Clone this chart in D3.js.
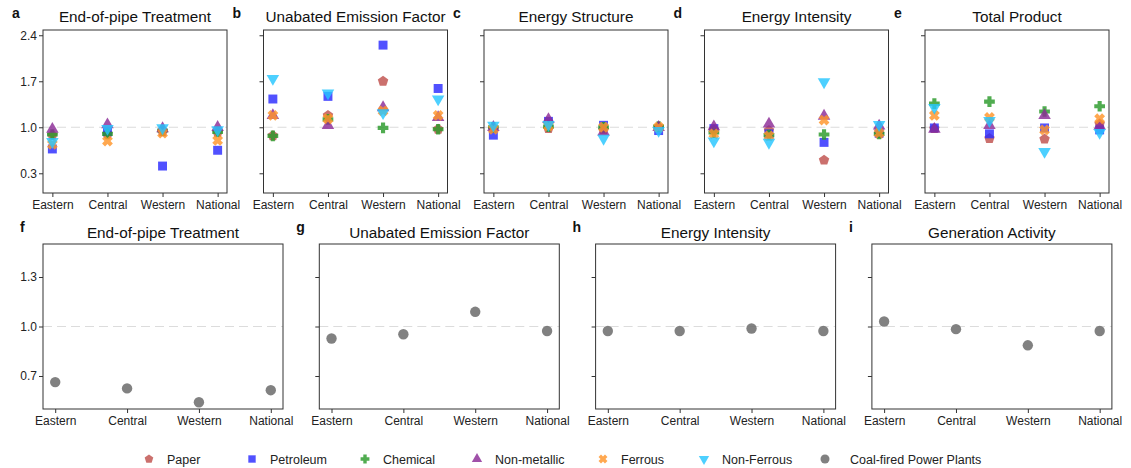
<!DOCTYPE html>
<html><head><meta charset="utf-8">
<script src="https://cdn.jsdelivr.net/npm/d3@7/dist/d3.min.js"></script>
<style>
html,body{margin:0;padding:0;background:#fff;}
svg{display:block;font-family:"Liberation Sans",Arial,sans-serif;}
</style></head>
<body><svg id="chart" width="1131" height="468"></svg>
<script>
// ---------- data ----------
const regions = ["Eastern", "Central", "Western", "National"];
const industries = ["Paper", "Petroleum", "Chemical", "Non-metallic", "Ferrous", "Non-Ferrous"];
const plantLabel = "Coal-fired Power Plants";

const topTitles = ["End-of-pipe Treatment", "Unabated Emission Factor", "Energy Structure", "Energy Intensity", "Total Product"];
const topLetters = ["a", "b", "c", "d", "e"];
const topTicks = [0.3, 1.0, 1.7, 2.4];

const bottomTitles = ["End-of-pipe Treatment", "Unabated Emission Factor", "Energy Intensity", "Generation Activity"];
const bottomLetters = ["f", "g", "h", "i"];
const bottomTicks = [0.7, 1.0, 1.3];

// rows follow `industries`, columns follow `regions`
const endOfPipeInd = [
  [0.88, 0.90, 0.93, 0.92],
  [0.67, 0.93, 0.41, 0.65],
  [0.89, 0.90, 0.95, 0.93],
  [0.97, 1.04, 0.98, 1.00],
  [0.74, 0.79, 0.91, 0.80],
  [0.78, 0.98, 0.99, 0.96]
];
const emissionFactorInd = [
  [0.87, 1.18, 1.70, 0.97],
  [1.43, 1.47, 2.25, 1.59],
  [0.87, 1.12, 0.99, 0.97],
  [1.18, 1.03, 1.30, 1.15],
  [1.18, 1.13, 1.25, 1.18],
  [1.74, 1.52, 1.22, 1.43]
];
const energyStructureInd = [
  [0.98, 0.98, 0.96, 1.00],
  [0.88, 1.09, 1.03, 0.95],
  [1.00, 1.01, 1.00, 1.01],
  [1.00, 1.12, 0.93, 1.00],
  [0.97, 1.02, 1.00, 1.00],
  [1.03, 1.04, 0.83, 0.95]
];
const energyIntensityInd = [
  [0.96, 0.95, 0.50, 0.90],
  [0.98, 0.90, 0.77, 0.91],
  [0.92, 0.88, 0.89, 0.90],
  [1.01, 1.05, 1.17, 1.02],
  [0.90, 0.87, 1.11, 0.91],
  [0.79, 0.77, 1.69, 1.04]
];
const totalProductInd = [
  [0.98, 0.83, 0.82, 1.05],
  [0.99, 0.90, 0.99, 0.96],
  [1.36, 1.39, 1.24, 1.32],
  [0.97, 1.03, 1.18, 1.02],
  [1.18, 1.15, 0.96, 1.13],
  [1.30, 1.10, 0.63, 0.92]
];

const endOfPipePower = [0.663, 0.625, 0.541, 0.614];
const emissionFactorPower = [0.927, 0.953, 1.089, 0.973];
const energyIntensityPower = [0.973, 0.973, 0.988, 0.973];
const generationPower = [1.030, 0.984, 0.886, 0.973];

// ---------- styles ----------
const colors = ["#c0504d", "#2b2bff", "#2a9a2a", "#8b2b96", "#ff952a", "#26c6ff"];
const plantColor = "#6f6f6f";

const pentagon = { draw(ctx, size) {
  const r = Math.sqrt(size / 2.378);
  for (let i = 0; i < 5; i++) {
    const a = -Math.PI / 2 + i * 2 * Math.PI / 5;
    const x = r * Math.cos(a), y = r * Math.sin(a);
    i ? ctx.lineTo(x, y) : ctx.moveTo(x, y);
  }
  ctx.closePath();
}};
const plusSym = { draw(ctx, size) {
  const s = Math.sqrt(size) / 2; const w = s / 2.6;
  const p = [[-w,-s],[w,-s],[w,-w],[s,-w],[s,w],[w,w],[w,s],[-w,s],[-w,w],[-s,w],[-s,-w],[-w,-w]];
  p.forEach((q, i) => i ? ctx.lineTo(q[0], q[1]) : ctx.moveTo(q[0], q[1]));
  ctx.closePath();
}};
const xSym = { draw(ctx, size) {
  const s = Math.sqrt(size) / 2 * 1.15; const w = s / 2.6;
  const p = [[-w,-s],[w,-s],[w,-w],[s,-w],[s,w],[w,w],[w,s],[-w,s],[-w,w],[-s,w],[-s,-w],[-w,-w]];
  const c = Math.SQRT1_2;
  p.forEach((q, i) => {
    const x = (q[0] - q[1]) * c, y = (q[0] + q[1]) * c;
    i ? ctx.lineTo(x, y) : ctx.moveTo(x, y);
  });
  ctx.closePath();
}};
const shapes = [
  { type: pentagon, size: 72, rot: 0 },
  { type: d3.symbolSquare, size: 80, rot: 0 },
  { type: plusSym, size: 115, rot: 0 },
  { type: d3.symbolTriangle, size: 68, rot: 0 },
  { type: xSym, size: 92, rot: 0 },
  { type: d3.symbolTriangle, size: 68, rot: 180 }
];

const svg = d3.select("#chart");
const FONT = "Liberation Sans, Arial, sans-serif";

function drawPanel(opt) {
  const g = svg.append("g").attr("transform", `translate(${opt.x},${opt.y})`);
  const x = d3.scalePoint().domain(regions).range([0, opt.w]).padding(0.17);
  const y = d3.scaleLinear().domain(opt.domain).range([opt.h, 0]);

  g.append("line").attr("x1", 0).attr("x2", opt.w).attr("y1", y(1)).attr("y2", y(1))
    .attr("stroke", "#dcdcdc").attr("stroke-width", 1.2).attr("stroke-dasharray", "9,5");

  const xa = g.append("g").attr("transform", `translate(0,${opt.h})`)
    .call(d3.axisBottom(x).tickSize(4).tickPadding(3));
  const ya = g.append("g")
    .call(d3.axisLeft(y).tickValues(opt.ticks).tickSize(4).tickPadding(2)
      .tickFormat(opt.showY ? d3.format(".1f") : () => ""));
  [xa, ya].forEach(a => {
    a.select(".domain").remove();
    a.selectAll("line").attr("stroke", "#333");
    a.selectAll("text").attr("fill", "#222").style("font-size", "12px").style("font-family", FONT);
  });

  opt.marks(g, x, y);

  g.append("rect").attr("x", 0).attr("y", 0).attr("width", opt.w).attr("height", opt.h)
    .attr("fill", "none").attr("stroke", "#333").attr("stroke-width", 1);

  g.append("text").attr("x", opt.w / 2).attr("y", opt.titleY).attr("text-anchor", "middle")
    .style("font-size", "15.3px").style("font-family", FONT).attr("fill", "#111").text(opt.title);
  g.append("text").attr("x", opt.letterX).attr("y", opt.letterY)
    .style("font-size", "14px").style("font-weight", "bold").style("font-family", FONT)
    .attr("fill", "#111").text(opt.letter);
}

// ---------- top row ----------
const topData = [endOfPipeInd, emissionFactorInd, energyStructureInd, energyIntensityInd, totalProductInd];
topData.forEach((mat, p) => {
  drawPanel({
    x: 43 + p * 220.5, y: 30, w: 184, h: 163,
    domain: [0, 2.48], ticks: topTicks, showY: p === 0,
    title: topTitles[p], letter: topLetters[p], titleY: -8, letterX: -31, letterY: -12,
    marks: (g, x, y) => {
      mat.forEach((vals, k) => {
        const sh = shapes[k];
        const sym = d3.symbol().type(sh.type).size(sh.size);
        g.append("g").selectAll("path").data(vals).join("path")
          .attr("d", sym)
          .attr("transform", (v, i) => `translate(${x(regions[i])},${y(v)}) rotate(${sh.rot})`)
          .attr("fill", colors[k]).attr("fill-opacity", 0.82);
      });
    }
  });
});

// ---------- bottom row ----------
const bottomData = [endOfPipePower, emissionFactorPower, energyIntensityPower, generationPower];
bottomData.forEach((vals, p) => {
  drawPanel({
    x: 43 + p * 276.3, y: 244, w: 240, h: 165,
    domain: [0.5, 1.5], ticks: bottomTicks, showY: p === 0,
    title: bottomTitles[p], letter: bottomLetters[p], titleY: -6, letterX: -23, letterY: -12,
    marks: (g, x, y) => {
      g.append("g").selectAll("circle").data(vals).join("circle")
        .attr("cx", (v, i) => x(regions[i])).attr("cy", v => y(v)).attr("r", 5.2)
        .attr("fill", plantColor).attr("fill-opacity", 0.88);
    }
  });
});

// ---------- legend ----------
const legendItems = industries.map((n, k) => ({ name: n, k }));
legendItems.push({ name: plantLabel, k: -1 });
const legendX = [149, 252, 365, 477, 603, 704, 825];
const legend = svg.append("g").attr("transform", "translate(0,459)");
legendItems.forEach((it, j) => {
  const gg = legend.append("g").attr("transform", `translate(${legendX[j]},0)`);
  if (it.k >= 0) {
    const sh = shapes[it.k];
    gg.append("path").attr("d", d3.symbol().type(sh.type).size(sh.size * 0.68)())
      .attr("transform", `rotate(${sh.rot})`).attr("fill", colors[it.k]).attr("fill-opacity", 0.82);
  } else {
    gg.append("circle").attr("r", 4.5).attr("fill", plantColor).attr("fill-opacity", 0.88);
  }
  gg.append("text").attr("x", it.k >= 0 ? 18 : 25).attr("y", 4.5)
    .style("font-size", "12.5px").style("font-family", FONT).attr("fill", "#222").text(it.name);
});
</script>
</body></html>
